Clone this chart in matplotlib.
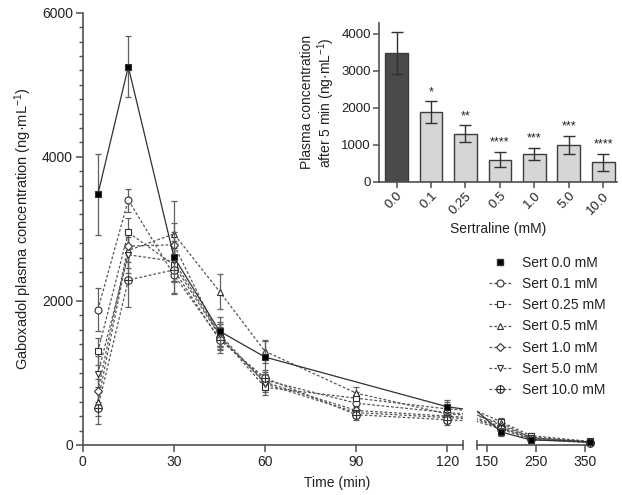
import numpy as np
import matplotlib
matplotlib.use("Agg")
import matplotlib.pyplot as plt
from matplotlib.path import Path

plt.rcParams['font.family'] = ['Liberation Sans', 'DejaVu Sans']
plt.rcParams['mathtext.fontset'] = 'custom'
plt.rcParams['mathtext.rm'] = 'Liberation Sans'
plt.rcParams['mathtext.it'] = 'Liberation Sans:italic'
plt.rcParams['font.size'] = 10

# ---------------- data ----------------
time_min = [5, 15, 30, 45, 60, 90, 120, 180, 240, 360]
series_labels = ["Sert 0.0 mM", "Sert 0.1 mM", "Sert 0.25 mM", "Sert 0.5 mM",
                 "Sert 1.0 mM", "Sert 5.0 mM", "Sert 10.0 mM"]
sert_00 = [3480, 5250, 2610, 1580, 1220, np.nan, 530, 180, 70, 45]
sert_01 = [1880, 3400, 2360, 1480, 900, 580, 450, 270, 110, 40]
sert_025 = [1300, 2950, 2500, 1520, 800, 650, 500, 320, 130, 50]
sert_05 = [600, 2700, 2930, 2130, 1300, 720, 430, 300, 100, 40]
sert_10 = [750, 2760, 2780, 1500, 870, 480, 400, 250, 90, 35]
sert_50 = [990, 2640, 2550, 1540, 850, 450, 380, 230, 100, 45]
sert_100 = [520, 2290, 2430, 1460, 930, 420, 350, 220, 80, 30]

err_00 = [560, 420, 350, 200, 230, np.nan, 100, 60, 40, 20]
err_01 = [300, 160, 250, 150, 120, 100, 80, 60, 40, 20]
err_025 = [190, 200, 230, 160, 110, 90, 90, 60, 40, 20]
err_05 = [200, 250, 460, 240, 160, 90, 70, 60, 40, 20]
err_10 = [160, 220, 300, 180, 110, 80, 70, 50, 30, 20]
err_50 = [240, 250, 280, 170, 120, 80, 70, 50, 30, 20]
err_100 = [230, 370, 330, 180, 110, 70, 70, 50, 30, 20]

bar_labels = ["0.0", "0.1", "0.25", "0.5", "1.0", "5.0", "10.0"]
bar_values = [3480, 1880, 1300, 600, 750, 990, 520]
bar_errors = [560, 290, 220, 200, 160, 240, 230]
bar_stars = ["", "*", "**", "****", "***", "***", "****"]

all_series = [sert_00, sert_01, sert_025, sert_05, sert_10, sert_50, sert_100]
all_errors = [err_00, err_01, err_025, err_05, err_10, err_50, err_100]

# crossed-circle marker
circ = Path.unit_circle()
cross = Path([[-1, 0], [1, 0], [0, -1], [0, 1]],
             [Path.MOVETO, Path.LINETO, Path.MOVETO, Path.LINETO])
oplus = Path.make_compound_path(circ, cross)

markers = ['s', 'o', 's', '^', 'D', 'v', oplus]
msizes = [5, 5, 5, 5, 4.5, 5, 5.5]

W, H = 622, 495
fig = plt.figure(figsize=(W / 100, H / 100), dpi=100)

def fx(px):
    return px / W

def fy(py):
    return 1 - py / H

spine_c = '#505050'
line_c = '#555555'

ax1 = fig.add_axes([fx(82.7), fy(445), fx(462.7) - fx(82.7), fy(12.7) - fy(445)])
ax2 = fig.add_axes([fx(476.7), fy(445), fx(590) - fx(476.7), fy(12.7) - fy(445)], sharey=ax1)
ax1.set_xlim(0, 125)
ax2.set_xlim(130, 360)
ax1.set_ylim(0, 6000)

for ax in (ax1, ax2):
    lo, hi = ax.get_xlim()
    for i, (vals, errs) in enumerate(zip(all_series, all_errors)):
        t = np.array(time_min, float)
        v = np.array(vals, float)
        e = np.array(errs, float)
        ok = np.isfinite(v)
        inr = ok & (t >= lo) & (t <= hi)
        if i == 0:
            ls = '-'
            lc = '#303030'
            mfc = 'black'
            z = 5
        else:
            ls = (0, (2.2, 1.6))
            lc = line_c
            mfc = 'white'
            z = 3
        ax.errorbar(t[inr], v[inr], yerr=e[inr], fmt='none', ecolor='#606060',
                    elinewidth=0.9, capsize=2.5, capthick=0.9, zorder=z - 1,
                    clip_on=False)
        ax.plot(t[ok], v[ok], linestyle=ls, color=lc, lw=0.9, zorder=z, clip_on=True)
        ax.plot(t[inr], v[inr], linestyle='none', marker=markers[i], ms=msizes[i],
                mfc=mfc, mec='#303030', mew=0.8, zorder=z + 0.5, clip_on=False)

ax1.set_xticks([0, 30, 60, 90, 120])
ax1.set_xticks([125], minor=True)
ax2.set_xticks([150, 250, 350])
ax2.set_xticks([130], minor=True)
ax1.set_yticks([0, 2000, 4000, 6000])
ax1.set_yticks(np.arange(0, 6001, 200), minor=True)

for ax in (ax1, ax2):
    for s in ('top', 'right'):
        ax.spines[s].set_visible(False)
    ax.spines['bottom'].set_color(spine_c)
    ax.spines['bottom'].set_linewidth(1.2)
    ax.tick_params(axis='both', which='major', direction='out', length=5,
                   width=1.1, color=spine_c, labelsize=10, pad=2, labelcolor='#222222')
    ax.tick_params(axis='x', which='minor', direction='inout', length=7,
                   width=1.1, color=spine_c)
    ax.patch.set_alpha(0)

ax1.spines['left'].set_color(spine_c)
ax1.spines['left'].set_linewidth(1.2)
ax1.tick_params(axis='y', which='minor', direction='out', length=3, width=1.0,
                color=spine_c)
ax2.spines['left'].set_visible(False)
ax2.tick_params(axis='y', which='both', left=False, labelleft=False)

ax1.set_ylabel("Gaboxadol plasma concentration (ng·mL$^{-1}$)", fontsize=10.5,
               color='#222222', labelpad=6)
fig.text(fx(337), fy(483), "Time (min)", ha='center', va='center', fontsize=10,
         color='#222222')

# legend
leg_handles = [plt.Line2D([], [], linestyle='none', marker='s', ms=5, mfc='black',
                          mec='#303030')]
for i in range(1, len(series_labels)):
    leg_handles.append(plt.Line2D([], [], linestyle=(0, (2.2, 1.6)), color=line_c, lw=0.9,
                                  marker=markers[i], ms=msizes[i], mfc='white',
                                  mec='#303030', mew=0.8))
leg = fig.legend(leg_handles, series_labels, loc='center left',
                 bbox_to_anchor=(fx(489), fy(326.5)), frameon=False, fontsize=10,
                 handlelength=1.6, handletextpad=0.75, labelspacing=0.52,
                 borderpad=0, borderaxespad=0)
for txt in leg.get_texts():
    txt.set_color('#222222')

# inset
axi = fig.add_axes([fx(379.3), fy(181.7), fx(617) - fx(379.3), fy(22.7) - fy(181.7)])
xpos = np.arange(len(bar_labels))
colors = ['#4a4a4a'] + ['#d6d6d6'] * (len(bar_labels) - 1)
axi.bar(xpos, bar_values, width=0.66, color=colors, edgecolor='#3c3c3c', linewidth=1.0,
        zorder=2)
axi.errorbar(xpos, bar_values, yerr=bar_errors, fmt='none', ecolor='#303030',
             elinewidth=1.0, capsize=4.3, capthick=1.0, zorder=3)
for x, v, e, s in zip(xpos, bar_values, bar_errors, bar_stars):
    if s:
        axi.text(x, v + e + 90, s, ha='center', va='bottom', fontsize=9,
                 color='#222222')
axi.set_xlim(-0.5, 6.4)
axi.set_ylim(0, 4300)
axi.set_yticks([0, 1000, 2000, 3000, 4000])
axi.set_xticks(xpos)
axi.set_xticklabels(bar_labels, rotation=45, ha='right', rotation_mode='anchor')
for s in ('top', 'right'):
    axi.spines[s].set_visible(False)
for s in ('left', 'bottom'):
    axi.spines[s].set_color(spine_c)
    axi.spines[s].set_linewidth(1.2)
axi.tick_params(axis='both', direction='out', length=4, width=1.1, color=spine_c,
                labelsize=9.5, pad=2, labelcolor='#222222')
axi.set_ylabel("Plasma concentration\nafter 5 min (ng·mL$^{-1}$)", fontsize=10,
               color='#222222', labelpad=3, linespacing=1.1)
axi.set_xlabel("Sertraline (mM)", fontsize=10, color='#222222', labelpad=4)

fig.savefig("out.png", dpi=100)
